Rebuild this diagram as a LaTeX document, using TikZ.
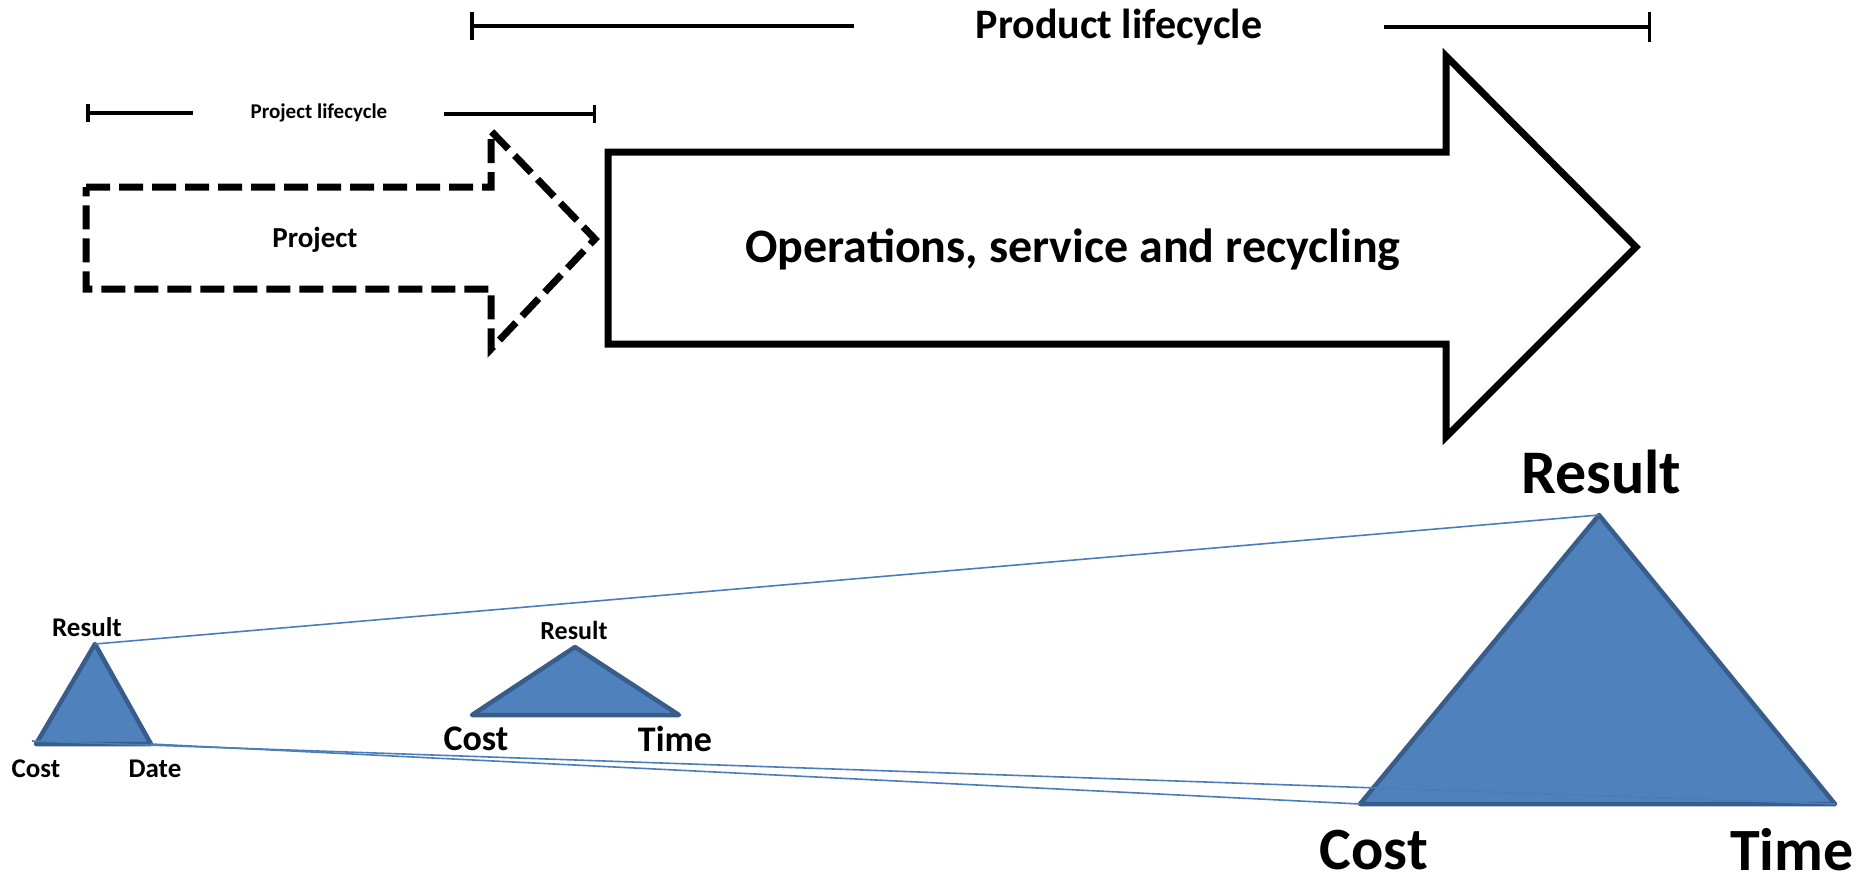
\documentclass[tikz,border=0pt]{standalone}
\usepackage{fontspec}
\setmainfont{Carlito}
\usetikzlibrary{arrows.meta}
\definecolor{TriFill}{HTML}{4F81BD}
\definecolor{TriEdge}{HTML}{385D8A}
\definecolor{LinkBlue}{HTML}{4A7EBB}
\newcommand{\fsz}[1]{\fontsize{#1}{#1}\selectfont\bfseries}

\begin{document}
\begin{tikzpicture}[x=1pt,y=-1pt,every node/.style={inner sep=0pt,text=black},span/.style={line width=3.5pt,draw=black},dasharrow/.style={line width=7pt,draw=black,dash pattern=on 24pt off 9pt,line join=miter},solidarrow/.style={line width=7pt,draw=black,fill=white,line join=miter},tri/.style={fill=TriFill,draw=TriEdge,line width=4.5pt,line join=round},link/.style={draw=LinkBlue,line width=1.6pt}]
\useasboundingbox[fill=white] (0,0) rectangle (1866,883);

% lifecycle spans
\node[font=\fsz{42}] (prodlabel) at (1119,27) {Product lifecycle};
\coordinate (prodL) at (470,26); \coordinate (prodLe) at (854,26); \coordinate (prodRs) at (1384,27); \coordinate (prodR) at (1651,27);
\draw[span,{Bar[width=28pt]}-] (prodL) -- (prodLe); \draw[span,-{Bar[width=30pt]}] (prodRs) -- (prodR);
\node[font=\fsz{21}] (projlabel) at (319,113) {Project lifecycle};
\coordinate (projL) at (86,113); \coordinate (projLe) at (193,113); \coordinate (projRs) at (444,114); \coordinate (projR) at (596,114);
\draw[span,{Bar[width=18pt]}-] (projL) -- (projLe); \draw[span,-{Bar[width=18pt]}] (projRs) -- (projR);

% phase arrows
\draw[dasharrow] (86,187) -- (491,187) -- (491,131) -- (595,239) -- (491,349) -- (491,289) -- (86,289) -- cycle;
\node[font=\fsz{29}] (project) at (315,240) {Project};
\draw[solidarrow] (608,152) -- (1446,152) -- (1446,56) -- (1636,247) -- (1446,437) -- (1446,344) -- (608,344) -- cycle;
\node[font=\fsz{48}] (operations) at (1073,250) {Operations, service and recycling};

% triangles
\coordinate (sTop) at (95,644); \coordinate (sLeft) at (36,744); \coordinate (sRight) at (151,744); \coordinate (sOver) at (32,741);
\coordinate (mTop) at (575,647); \coordinate (mLeft) at (472,715); \coordinate (mRight) at (679,715);
\coordinate (bTop) at (1599,515); \coordinate (bLeft) at (1360,804); \coordinate (bRight) at (1835,804);
\filldraw[tri] (sTop) -- (sLeft) -- (sRight) -- cycle;
\filldraw[tri] (mTop) -- (mLeft) -- (mRight) -- cycle;
\filldraw[tri] (bTop) -- (bLeft) -- (bRight) -- cycle;
\draw[link] (sTop) -- (bTop); \draw[link] (sOver) -- (bRight); \draw[link] (sRight) -- (bLeft);

\node[font=\fsz{27}] (sResult) at (87,627) {Result}; \node[font=\fsz{27}] (sCost) at (36,769) {Cost}; \node[font=\fsz{27}] (sDate) at (155,769) {Date};
\node[font=\fsz{26}] (mResult) at (574,630) {Result}; \node[font=\fsz{36}] (mCost) at (476,739) {Cost}; \node[font=\fsz{36}] (mTime) at (675,739) {Time};
\node[font=\fsz{62}] (bResult) at (1601,472) {Result}; \node[font=\fsz{60}] (bCost) at (1374,850) {Cost}; \node[font=\fsz{60}] (bTime) at (1792,850) {Time};

\end{tikzpicture}
\end{document}
